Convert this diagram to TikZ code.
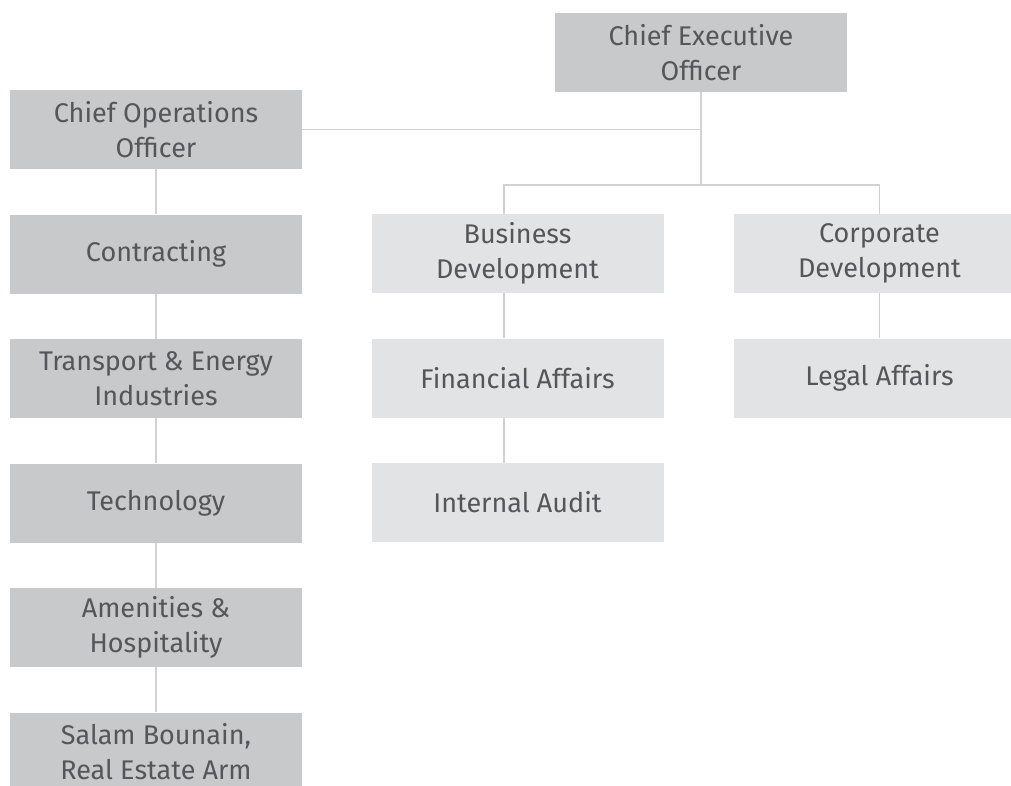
\documentclass[tikz,border=0pt]{standalone}
\usepackage{fontspec}
\setmainfont{Fira Sans}
\usetikzlibrary{calc,positioning}
\definecolor{boxdark}{HTML}{C8C9CB}
\definecolor{boxlight}{HTML}{E2E3E5}
\definecolor{linkgray}{HTML}{D2D2D2}
\definecolor{textgray}{HTML}{55565A}
\tikzset{
    unit/.style={rectangle, minimum width=292pt, minimum height=79pt, inner sep=0pt,
        align=center, text=textgray, font=\fontsize{27}{35}\selectfont},
    opsunit/.style={unit, fill=boxdark},
    corpunit/.style={unit, fill=boxlight},
    link/.style={draw=linkgray, line width=1.5pt},
}

\begin{document}
\begin{tikzpicture}[node distance=124.5pt,on grid]
    \useasboundingbox (0,0) rectangle (1011pt,-785pt);
    \clip (0,0) rectangle (1011pt,-785pt);
    % operations column
    \node[opsunit] (coo) at (156pt,-129.5pt) {Chief Operations\\Officer};
    \node[opsunit] (con) [below=of coo] {Contracting};
    \node[opsunit] (tei) [below=of con] {Transport \& Energy\\Industries};
    \node[opsunit] (tech) [below=of tei] {Technology};
    \node[opsunit] (ame) [below=of tech] {Amenities \&\\Hospitality};
    \node[opsunit] (sal) [below=of ame] {Salam Bounain,\\Real Estate Arm};
    % executive side
    \node[opsunit] (ceo) at (701pt,-52.5pt) {Chief Executive\\Officer};
    \node[corpunit] (bd) at (517.5pt,-253.5pt) {Business\\Development};
    \node[corpunit] (fin) [below=of bd] {Financial Affairs};
    \node[corpunit] (aud) [below=of fin] {Internal Audit};
    \node[corpunit] (cd) at (879.5pt,-253.5pt) {Corporate\\Development};
    \node[corpunit] (leg) [below=of cd] {Legal Affairs};

    \foreach \a/\b in {coo/con,con/tei,tei/tech,tech/ame,ame/sal,cd/leg}
        \draw[link] (\a) -- (\b);
    \foreach \a/\b in {bd/fin,fin/aud}
        \draw[link] ([xshift=-13.5pt]\a.south) -- ([xshift=-13.5pt]\b.north);
    \draw[link] (coo.east) -- (coo.east -| ceo.south);
    \draw[link] (ceo.south) -- ++(0,-93pt) coordinate (fork);
    \draw[link] ([xshift=-13.5pt]bd.north) |- (fork) -| (cd.north);
\end{tikzpicture}
\end{document}
